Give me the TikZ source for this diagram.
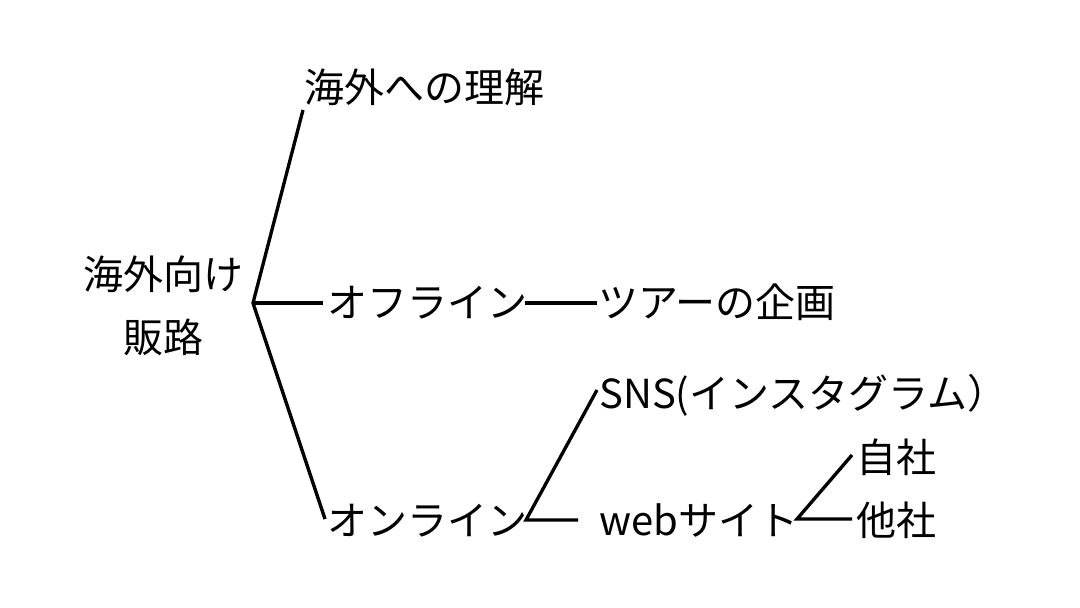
\documentclass[tikz,border=0pt]{standalone}
\usepackage{fontspec}
\setmainfont{Noto Sans CJK JP}
\begin{document}
\begin{tikzpicture}[x={(0.75pt,0)},y={(0,-0.75pt)},
  lbl/.style={anchor=west,inner sep=0pt,font=\fontsize{30pt}{47pt}\selectfont,text height=25pt,text depth=4pt},
  conn/.style={line width=2.5pt,line cap=butt}]
\useasboundingbox[fill=white] (0,0) rectangle (1080,607);
% labels
\node[anchor=center,inner sep=0pt,align=center,font=\fontsize{30pt}{47pt}\selectfont] (root) at (163,306) {海外向け\\販路};
\node[lbl] (t1) at (304,88) {海外への理解};
\node[lbl] (t2) at (327,303) {オフライン};
\node[lbl] (t3) at (598,303) {ツアーの企画};
\node[lbl] (t4) at (327,521) {オンライン};
\node[lbl] (t5) at (599,394) {SNS(インスタグラム）};
\node[lbl] (t6) at (599,521) {webサイト};
\node[lbl] (t7) at (856,458) {自社};
\node[lbl] (t8) at (856,521) {他社};
% junctions
\coordinate (j0) at (253,303);
\coordinate (j1) at (526,520);
\coordinate (j2) at (797,519);
\coordinate (e1) at (303,110);
\coordinate (e2) at (323,303);
\coordinate (e3) at (325,519);
\coordinate (e4) at (525,303);
\coordinate (e5) at (597,303);
\coordinate (e6) at (597,390);
\coordinate (e7) at (578,520);
\coordinate (e8) at (852,455);
\coordinate (e9) at (852,519);
\draw[conn] (e1) -- (j0) -- (e3);
\draw[conn] (j0) -- (e2);
\draw[conn] (e4) -- (e5);
\draw[conn] (e6) -- (j1) -- (e7);
\draw[conn] (e8) -- (j2) -- (e9);
\end{tikzpicture}
\end{document}
